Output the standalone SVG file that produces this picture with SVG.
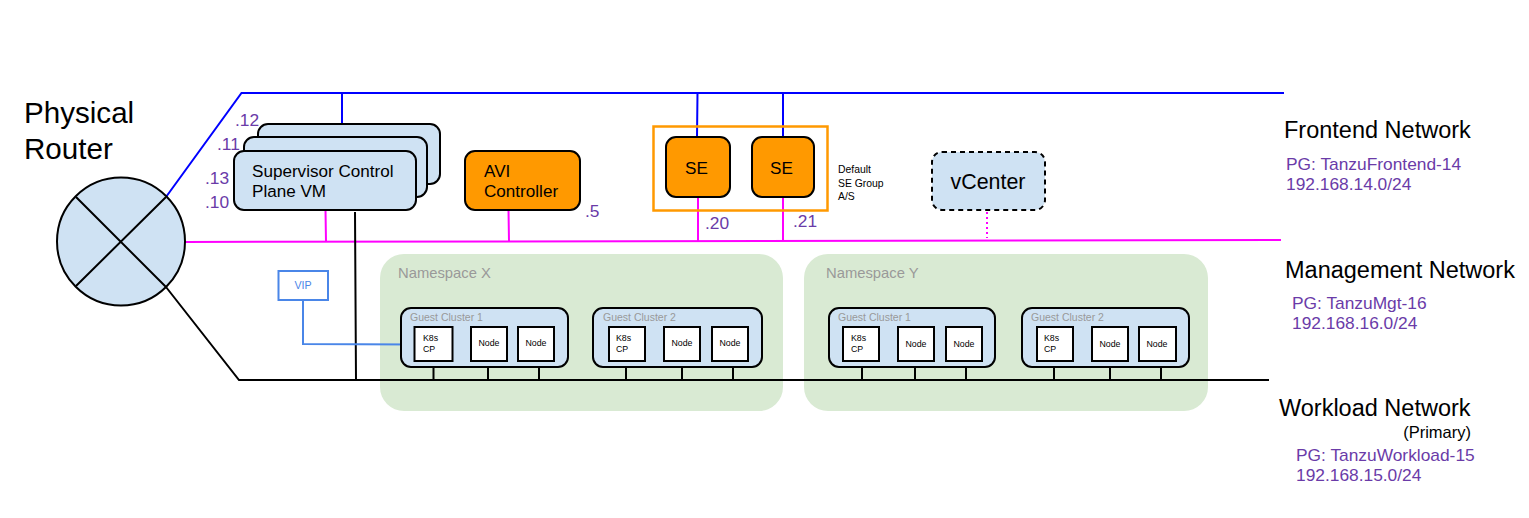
<svg xmlns="http://www.w3.org/2000/svg" width="1529" height="518" viewBox="0 0 1529 518">
<style>
text{font-family:"Liberation Sans",Arial,sans-serif;fill:#000}
.ns{fill:#d9ead3}
.nst{font-size:14.8px;fill:#999}
.gc{fill:#cfe2f3;stroke:#000;stroke-width:2}
.gct{font-size:10.5px;fill:#999}
.box{fill:#fff;stroke:#000;stroke-width:2}
.t9{font-size:8.8px}
.blue{fill:#cfe2f3;stroke:#000;stroke-width:2}
.org{fill:#ff9900;stroke:#000;stroke-width:2}
.t17{font-size:17.1px}
.pur{font-size:17.35px;fill:#6a3ba8}
.big{font-size:23.5px}
.c{fill:none;stroke-width:2}
.k{stroke:#000}.b{stroke:#0000ff}.m{stroke:#ff00ff}
.mid{text-anchor:middle}
</style>
<rect width="1529" height="518" fill="#fff"/>
<g id="namespace-x"><rect class="ns" x="380" y="254" width="403" height="157" rx="24"/><text class="nst" x="398" y="278">Namespace X</text></g>
<g id="namespace-y"><rect class="ns" x="804" y="254" width="404" height="157" rx="24"/><text class="nst" x="826" y="278">Namespace Y</text></g>
<g id="connectors" class="c">
<path class="c b" d="M166 197L241.500 93H1284M342 93V124M697.500 93L697 137M783 93V137"/>
<path class="c m" d="M185 242L1281 240M325.500 210L326 242M508.500 210L509 241.500M698 197V241M783 197V241"/>
<path class="c m" stroke-dasharray="2 3" d="M987 212V238"/>
<path class="c k" d="M166 287L239 380H1269M355 212L356 380M433.500 361V380M488 361V380M539 361V380M626 361V380M682 361V380M733 361V380M862 361V380M915 361V380M966 361V380M1054 361V380M1110 361V380M1161 361V380"/>
<path class="c" stroke="#4a86e8" d="M303 300V344L414 344.500"/>
</g>
<g id="router"><circle class="blue" cx="121" cy="241.500" r="64"/><path class="c k" d="M76 197L166 287M166 197L76 286"/></g>
<g id="router-label"><text x="24" y="123" font-size="29.600">Physical</text><text x="24" y="159" font-size="29.600">Router</text></g>
<g id="supervisor-3"><rect class="blue" x="258" y="124" width="182" height="60" rx="10"/></g>
<g id="supervisor-2"><rect class="blue" x="244" y="137" width="183" height="60" rx="10"/></g>
<g id="supervisor-1"><rect class="blue" x="234" y="151" width="182" height="59" rx="10"/><text class="t17" x="252" y="177">Supervisor Control</text><text class="t17" x="252" y="197">Plane VM</text></g>
<g id="supervisor-ips"><text class="pur" x="235" y="126">.12</text><text class="pur" x="217" y="150">.11</text><text class="pur" x="205" y="184">.13</text><text class="pur" x="205" y="208">.10</text></g>
<g id="avi-controller"><rect class="org" x="465" y="151" width="115" height="59" rx="10"/><text class="t17" x="484" y="177">AVI</text><text class="t17" x="484" y="197">Controller</text><text class="pur" x="585" y="217">.5</text></g>
<g id="se-group"><rect x="653.500" y="126.500" width="174" height="84" fill="none" stroke="#ff9900" stroke-width="2.500"/><text x="838" y="173" font-size="10.400">Default</text><text x="838" y="187" font-size="10.400">SE Group</text><text x="838" y="200" font-size="10.400">A/S</text></g>
<g id="se-1"><rect class="org" x="666" y="137" width="64" height="60" rx="10"/><text class="t17 mid" x="696.500" y="174">SE</text><text class="pur" x="705" y="229">.20</text></g>
<g id="se-2"><rect class="org" x="752" y="137" width="62" height="60" rx="10"/><text class="t17 mid" x="781.500" y="174">SE</text><text class="pur" x="793" y="227">.21</text></g>
<g id="vcenter"><rect class="blue" x="932" y="152" width="113" height="58" rx="10" stroke-dasharray="5 4"/><text class="mid" x="988" y="189" font-size="21.400">vCenter</text></g>
<g id="vip"><rect x="278.500" y="271" width="49.500" height="29" fill="#fff" stroke="#4a86e8" stroke-width="2"/><text class="mid" x="303" y="289" font-size="10.700" style="fill:#4a86e8">VIP</text></g>
<g id="x-cluster-1"><rect class="gc" x="401" y="308" width="167" height="59" rx="10"/><text class="gct" x="410" y="321">Guest Cluster 1</text>
<rect class="box" x="414.500" y="327" width="38" height="34"/><text class="t9" x="423" y="341">K8s</text><text class="t9" x="423" y="352">CP</text>
<rect class="box" x="471" y="327" width="36" height="34"/><text class="t9 mid" x="489" y="346">Node</text>
<rect class="box" x="518" y="327" width="36" height="34"/><text class="t9 mid" x="536" y="346">Node</text></g>
<g id="x-cluster-2"><rect class="gc" x="593" y="308" width="169" height="59" rx="10"/><text class="gct" x="603" y="321">Guest Cluster 2</text>
<rect class="box" x="609" y="327" width="36" height="34"/><text class="t9" x="616" y="341">K8s</text><text class="t9" x="616" y="352">CP</text>
<rect class="box" x="664" y="327" width="36" height="34"/><text class="t9 mid" x="682" y="346">Node</text>
<rect class="box" x="712" y="327" width="36" height="34"/><text class="t9 mid" x="730" y="346">Node</text></g>
<g id="y-cluster-1"><rect class="gc" x="829" y="308" width="166" height="59" rx="10"/><text class="gct" x="838" y="321">Guest Cluster 1</text>
<rect class="box" x="843" y="327" width="36" height="34"/><text class="t9" x="851" y="341">K8s</text><text class="t9" x="851" y="352">CP</text>
<rect class="box" x="898" y="327" width="36" height="34"/><text class="t9 mid" x="916" y="347">Node</text>
<rect class="box" x="946" y="327" width="36" height="34"/><text class="t9 mid" x="964" y="347">Node</text></g>
<g id="y-cluster-2"><rect class="gc" x="1022" y="308" width="167" height="59" rx="10"/><text class="gct" x="1031" y="321">Guest Cluster 2</text>
<rect class="box" x="1037" y="327" width="36" height="34"/><text class="t9" x="1044" y="341">K8s</text><text class="t9" x="1044" y="352">CP</text>
<rect class="box" x="1092" y="327" width="36" height="34"/><text class="t9 mid" x="1110" y="347">Node</text>
<rect class="box" x="1139" y="327" width="37" height="34"/><text class="t9 mid" x="1157" y="347">Node</text></g>
<g id="frontend-label"><text class="big" x="1284" y="138">Frontend Network</text><text class="pur" x="1286" y="170">PG: TanzuFrontend-14</text><text class="pur" x="1286" y="190">192.168.14.0/24</text></g>
<g id="management-label"><text class="big" x="1285" y="278">Management Network</text><text class="pur" x="1292" y="309">PG: TanzuMgt-16</text><text class="pur" x="1292" y="329">192.168.16.0/24</text></g>
<g id="workload-label"><text class="big" x="1279" y="416">Workload Network</text><text x="1471" y="438" font-size="16.500" text-anchor="end">(Primary)</text><text class="pur" x="1296" y="461">PG: TanzuWorkload-15</text><text class="pur" x="1296" y="481">192.168.15.0/24</text></g>
</svg>
